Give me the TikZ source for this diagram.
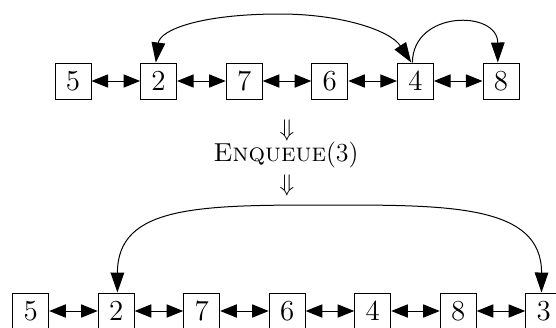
\documentclass[tikz,border=0pt]{standalone}
\usetikzlibrary{arrows.meta}
\tikzset{
  box/.style={draw, line width=0.5pt, minimum size=18pt, inner sep=0pt, font=\fontsize{14.5}{16}\selectfont},
  link/.style={line width=0.5pt, {Triangle[length=8.3pt,width=6.6pt]}-{Triangle[length=8.3pt,width=6.6pt]}},
  ptr/.style={line width=0.5pt},
  bighead/.tip={Triangle[length=10pt,width=6.8pt]},
  lbl/.style={inner sep=0pt, font=\fontsize{13}{15}\selectfont},
  arr/.style={inner sep=0pt, font=\fontsize{12}{14}\selectfont}
}
\begin{document}
\begin{tikzpicture}[x=0.5pt,y=-0.5pt]
\useasboundingbox (0,0) rectangle (556,327);
% top row
\foreach \v [count=\i] in {5,2,7,6,4,8} {
  \node[box] (t\i) at ({73+85.6*(\i-1)},81) {\v};
}
\foreach \i [evaluate=\i as \j using int(\i+1)] in {1,...,5} {
  \draw[link] (t\i.east) -- (t\j.west);
}
\draw[ptr, bighead-bighead] ([xshift=-1.4pt]t2.north) .. controls (160,30) and (200,14) .. (280,14) .. controls (340,14) and (390,30) .. ([xshift=-2.1pt]t5.north);
\draw[ptr, -bighead] ([xshift=-1.5pt]t5.north) .. controls (413,10) and (497.7,10) .. ([xshift=-1.6pt]t6.north);
% middle
\node[arr] (d1) at (287,130.5) {$\Downarrow$};
\node[lbl] (op) at (286,155) {\textsc{Enqueue}(3)};
\node[arr] (d2) at (287,185) {$\Downarrow$};
% bottom row
\foreach \v [count=\i] in {5,2,7,6,4,8,3} {
  \node[box] (b\i) at ({30.7+85.5*(\i-1)},311) {\v};
}
\foreach \i [evaluate=\i as \j using int(\i+1)] in {1,...,6} {
  \draw[link] (b\i.east) -- (b\j.west);
}
\draw[ptr, bighead-bighead] ([xshift=0.6pt]b2.north) .. controls (117.5,205) and (200,205) .. (330,205) .. controls (450,205) and (541.7,205) .. ([xshift=-1.1pt]b7.north);
\end{tikzpicture}
\end{document}
